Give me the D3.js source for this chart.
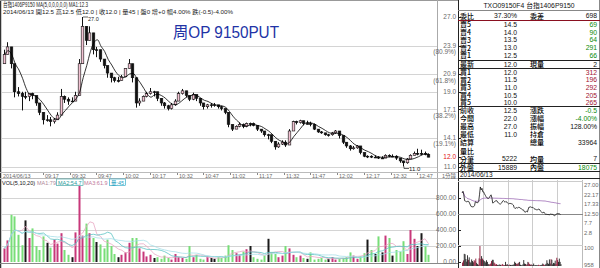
<!DOCTYPE html>
<html>
<head>
<meta charset="utf-8">
<script src="https://cdn.jsdelivr.net/npm/d3@7"></script>
<style>
html, body { margin: 0; padding: 0; background: #fff; }
svg { display: block; font-family: "Liberation Sans", "Noto Sans CJK TC", sans-serif; }
</style>
</head>
<body>
<svg id="chart" width="600" height="268"></svg>
<script>
// ---- data (2-minute bars) ----
const barTimes = [
  '08:55','08:57','08:59','09:01','09:03','09:05','09:07','09:09','09:11','09:13',
  '09:15','09:17','09:19','09:21','09:23','09:25','09:27','09:29','09:31','09:33',
  '09:35','09:37','09:39','09:41','09:43','09:45','09:47','09:49','09:51','09:53',
  '09:55','09:57','09:59','10:01','10:03','10:05','10:07','10:09','10:11','10:13',
  '10:15','10:17','10:19','10:21','10:23','10:25','10:27','10:29','10:31','10:33',
  '10:35','10:37','10:39','10:41','10:43','10:45','10:47','10:49','10:51','10:53',
  '10:55','10:57','10:59','11:01','11:03','11:05','11:07','11:09','11:11','11:13',
  '11:15','11:17','11:19','11:21','11:23','11:25','11:27','11:29','11:31','11:33',
  '11:35','11:37','11:39','11:41','11:43','11:45','11:47','11:49','11:51','11:53',
  '11:55','11:57','11:59','12:01','12:03','12:05','12:07','12:09','12:11','12:13',
  '12:15','12:17','12:19','12:21','12:23','12:25','12:27','12:29','12:31','12:33',
  '12:35','12:37','12:39','12:41','12:43','12:45','12:47','12:49','12:51','12:53'
];
const opens = [
  22.0,23.0,23.8,22.0,19.0,18.8,18.5,18.5,18.8,18.6,
  17.8,16.8,16.0,16.0,15.8,16.0,16.5,18.5,18.2,18.0,
  18.0,18.6,22.0,26.0,24.5,25.3,23.5,23.5,22.5,21.8,
  21.0,20.5,20.2,20.2,20.6,21.5,22.0,20.5,17.8,18.0,
  18.5,18.8,19.0,19.0,18.3,17.8,17.5,17.2,17.6,18.0,
  18.8,19.1,18.6,18.2,18.7,18.3,17.8,17.4,17.6,17.6,
  17.6,17.4,17.2,16.8,15.5,15.0,15.3,15.5,15.3,15.6,
  15.6,15.4,15.0,14.8,14.4,14.4,13.7,13.1,13.4,13.6,
  13.3,14.8,15.8,15.7,15.9,15.6,15.6,15.5,15.0,14.7,
  14.6,14.4,14.4,14.6,14.8,14.3,13.6,13.2,12.9,13.0,
  13.2,12.5,12.1,12.1,12.0,12.0,11.9,11.9,12.2,12.1,
  12.1,11.9,11.6,11.4,11.8,12.2,12.4,12.4,12.4,12.3
];
const highs = [
  23.5,24.3,23.8,22.0,19.5,19.0,19.0,18.8,18.9,18.6,
  17.8,16.8,16.5,16.3,16.2,16.8,19.3,18.6,18.4,18.4,
  19.0,22.5,27.0,26.0,26.0,25.3,23.8,23.5,22.5,21.8,
  21.0,20.6,20.6,20.8,21.5,22.5,22.0,20.5,18.3,18.6,
  19.0,19.4,19.1,19.0,18.3,17.9,17.6,17.8,18.2,19.0,
  19.3,19.1,18.6,18.9,18.7,18.3,17.8,17.7,17.8,17.8,
  17.6,17.5,17.2,16.8,15.5,15.4,15.7,15.6,15.7,15.7,
  15.7,15.4,15.0,14.8,14.5,14.4,13.7,13.6,13.8,13.8,
  15.0,15.9,15.9,16.0,15.9,15.9,15.8,15.6,15.0,14.8,
  14.6,14.5,14.7,14.9,14.8,14.3,13.6,13.3,13.2,13.3,
  13.2,12.5,12.2,12.2,12.2,12.1,12.1,12.3,12.3,12.3,
  12.2,11.9,11.6,11.9,12.3,12.6,12.9,12.8,12.6,12.4
];
const lows = [
  22.0,23.0,21.5,18.4,18.5,17.0,18.2,18.0,18.2,17.5,
  16.5,15.5,15.8,15.3,15.6,16.0,16.5,17.8,17.6,17.9,
  18.0,18.6,22.0,24.0,24.5,23.0,22.7,22.2,21.5,20.5,
  20.0,20.0,20.0,20.2,20.6,21.5,20.0,17.3,17.5,18.0,
  18.4,18.7,18.5,18.0,17.5,17.2,17.0,17.1,17.5,18.0,
  18.7,18.4,18.0,18.1,18.0,17.5,17.1,17.2,17.3,17.4,
  17.2,17.0,16.6,15.2,14.8,15.0,15.2,15.1,15.2,15.3,
  15.3,14.8,14.6,14.2,13.9,13.5,12.8,13.0,13.3,13.1,
  13.3,14.8,15.5,15.6,15.4,15.5,15.3,14.9,14.6,14.5,
  14.3,14.2,14.3,14.5,14.0,13.4,13.0,12.7,12.8,12.9,
  12.3,12.0,11.9,11.9,11.9,11.8,11.8,11.9,12.0,12.0,
  11.7,11.4,11.0,11.3,11.8,12.2,12.2,12.2,12.2,12.0
];
const closes = [
  23.0,23.8,22.0,19.0,18.8,18.5,18.5,18.8,18.6,17.8,
  16.8,16.0,16.0,15.8,16.0,16.5,18.5,18.2,18.0,18.0,
  18.6,22.0,26.0,24.5,25.3,23.5,23.5,22.5,21.8,21.0,
  20.5,20.2,20.2,20.6,21.5,22.0,20.5,17.8,18.0,18.5,
  18.8,19.0,19.0,18.3,17.8,17.5,17.2,17.6,18.0,18.8,
  19.1,18.6,18.2,18.7,18.3,17.8,17.4,17.6,17.6,17.6,
  17.4,17.2,16.8,15.5,15.0,15.3,15.5,15.3,15.6,15.6,
  15.4,15.0,14.8,14.4,14.4,13.7,13.1,13.4,13.6,13.3,
  14.8,15.8,15.7,15.9,15.6,15.6,15.5,15.0,14.7,14.6,
  14.4,14.4,14.6,14.8,14.3,13.6,13.2,12.9,13.0,13.2,
  12.5,12.1,12.1,12.0,12.0,11.9,11.9,12.2,12.1,12.1,
  11.9,11.6,11.4,11.8,12.2,12.4,12.4,12.4,12.3,12.0
];
const volumes = [
  170,270,590,570,340,210,520,300,420,200,
  150,320,240,180,280,230,360,150,90,60,
  370,970,330,480,360,300,250,220,170,280,
  200,100,60,90,120,240,300,300,170,130,
  70,90,50,60,40,80,50,30,100,60,
  50,40,200,60,90,40,30,70,50,40,
  60,50,80,210,150,110,90,130,160,200,
  60,40,30,80,290,120,100,60,80,200,
  170,90,60,80,50,40,120,30,40,50,
  30,40,60,30,40,50,60,120,80,40,
  70,110,280,150,100,320,120,330,300,80,
  150,130,260,100,400,290,200,360,200,90
];

const timeTicks = ['09:17','09:32','09:47','10:02','10:17','10:32','10:47','11:02','11:17','11:32','11:47','12:02','12:17','12:32','12:47'];
const priceLevels = [27.0, 23.94, 20.89, 19.0, 17.11, 14.06, 11.0];
const priceLabels = ['27.0', '23.9', '20.9', '19.0', '17.1', '14.1', '11.0'];
const pctLabels = ['', '(80.9%)', '(61.8%)', '', '(38.2%)', '(19.1%)', ''];
const lastPrice = 12.0;
const volTicks = [800, 600, 400, 200, 0];

const askLabels = ['賣5', '賣4', '賣3', '賣2', '賣1'];
const askPrices = ['14.5', '14.0', '13.5', '13.0', '12.5'];
const askSizes = ['69', '90', '64', '291', '66'];
const bidLabels = ['買1', '買2', '買3', '買4', '買5'];
const bidPrices = ['12.0', '11.5', '11.0', '10.5', '10.0'];
const bidSizes = ['312', '196', '292', '205', '265'];
const statLabels = ['前收', '今開', '最高', '最低', '結算', '量比', '分筆'];
const statValues = ['12.5', '22.0', '27.0', '11.0', '', '', '5222'];
const statLabels2 = ['漲跌', '漲幅', '振幅', '持倉', '總量', '', '均量'];
const statValues2 = ['-0.5', '-4.00%', '128.00%', '', '33964', '', '7'];

const miniTicks = [27, 22.17, 17.33, 12.5, 7.67, 2.83];
const miniTickLabels = ['27.00', '22.17', '17.33', '12.50', '7.7', '2.8'];
const miniGridTimes = ['09:45', '10:45', '11:45', '12:45'];

// ---- helpers ----
const toMin = t => { const p = t.split(':').map(Number); return p[0] * 60 + p[1]; };
const bars = barTimes.map((t, i) => ({
  t: toMin(t), o: opens[i], h: highs[i], l: lows[i], c: closes[i], v: volumes[i]
}));
const movingAvg = (arr, n) => arr.map((d, i) => d3.mean(arr.slice(Math.max(0, i - n + 1), i + 1)));
const ma5 = movingAvg(closes, 5);
const vma5 = movingAvg(volumes, 5), vma10 = movingAvg(volumes, 10), vma20 = movingAvg(volumes, 20);

const svg = d3.select('#chart');
const gray = '#6a6a6a';
const cjk = '"Noto Sans CJK TC", sans-serif';

// ---- scales ----
const x = d3.scaleLinear().domain([toMin('08:54'), toMin('12:58')]).range([2, 437]);
const y = d3.scaleLinear().domain([11, 27]).range([166.5, 17]);
const yVol = d3.scaleLinear().domain([0, 800]).range([262, 198]);

// ---- frame ----
svg.append('rect').attr('width', 600).attr('height', 268).attr('fill', '#fff');
svg.append('line').attr('x1', 0.5).attr('x2', 0.5).attr('y1', 0).attr('y2', 268).attr('stroke', '#333').attr('stroke-width', 1.5);
svg.append('line').attr('x1', 0).attr('x2', 458).attr('y1', 0.5).attr('y2', 0.5).attr('stroke', '#999');
svg.append('line').attr('x1', 437.5).attr('x2', 437.5).attr('y1', 0).attr('y2', 263).attr('stroke', '#aaa');
[172.5, 178.5].forEach(v => svg.append('line').attr('x1', 0).attr('x2', 458).attr('y1', v).attr('y2', v).attr('stroke', '#bbb'));
svg.append('line').attr('x1', 0).attr('x2', 458).attr('y1', 263.5).attr('y2', 263.5).attr('stroke', '#888');

// ---- header text ----
svg.append('text').attr('x', 3).attr('y', 7).attr('font-size', 6.5).attr('fill', '#222')
  .attr('textLength', 85).attr('lengthAdjust', 'spacingAndGlyphs')
  .text('台指1406P9150 MA(5,0,0,0,0,0) MA1:12.3');
svg.append('text').attr('x', 3).attr('y', 13.5).attr('font-size', 6).attr('fill', '#222')
  .attr('textLength', 230).attr('lengthAdjust', 'spacingAndGlyphs')
  .text('2014/06/13 開12.5 高12.5 低12.0 | 收12.0 | 量45 | 盤0 增+0 幅4.00% 跌(-0.5)-4.00%');
svg.append('text').attr('x', 173).attr('y', 38).attr('font-size', 16).attr('fill', '#2233a6')
  .attr('textLength', 106).attr('lengthAdjust', 'spacingAndGlyphs')
  .text('周OP 9150PUT');

// ---- price grid + right axis ----
svg.append('g').selectAll('line').data(priceLevels.slice(1)).enter().append('line')
  .attr('x1', 2).attr('x2', 437)
  .attr('y1', d => Math.round(y(d)) + 0.5).attr('y2', d => Math.round(y(d)) + 0.5)
  .attr('stroke', '#d4d4d4');

const gAxis = svg.append('g').attr('font-size', 6.5).attr('text-anchor', 'end');
priceLevels.forEach((p, i) => {
  gAxis.append('text').attr('x', 456).attr('y', y(p) + 2.2).attr('fill', gray).text(priceLabels[i]);
  if (pctLabels[i]) gAxis.append('text').attr('x', 456).attr('y', y(p) + 8.5).attr('fill', gray).text(pctLabels[i]);
});
gAxis.append('text').attr('x', 456).attr('y', y(lastPrice) + 2.2).attr('fill', '#e01010').text(lastPrice.toFixed(1));
gAxis.append('text').attr('x', 456).attr('y', 177.5).attr('fill', gray).attr('font-size', 5.5).text('1分鐘');

// ---- candles ----
const cx = d => Math.round(x(d.t));
const gCandle = svg.append('g');
gCandle.selectAll('line').data(bars).enter().append('line')
  .attr('x1', d => cx(d) + 0.5).attr('x2', d => cx(d) + 0.5)
  .attr('y1', d => y(d.h)).attr('y2', d => y(d.l))
  .attr('stroke', '#111');
gCandle.selectAll('rect').data(bars).enter().append('rect')
  .attr('x', d => cx(d) - 0.8).attr('width', 2.6)
  .attr('y', d => y(Math.max(d.o, d.c)))
  .attr('height', d => Math.max(0.8, Math.abs(y(d.o) - y(d.c))))
  .attr('fill', d => d.c > d.o ? '#f2c2d2' : '#111')
  .attr('stroke', '#111').attr('stroke-width', 0.6);

svg.append('path').datum(bars.map((d, i) => ({t: d.t, v: ma5[i]})))
  .attr('fill', 'none').attr('stroke', '#000').attr('stroke-width', 0.8)
  .attr('d', d3.line().x(d => x(d.t) + 1).y(d => y(d.v)).curve(d3.curveMonotoneX));

// high / low markers
const hiBar = bars[d3.maxIndex(bars, d => d.h)], loBar = bars[d3.minIndex(bars, d => d.l)];
svg.append('path').attr('fill', 'none').attr('stroke', '#222').attr('stroke-width', 0.7)
  .attr('d', `M${cx(hiBar) + 1},${y(hiBar.h)}H${cx(hiBar) + 6}`);
svg.append('text').attr('x', cx(hiBar) + 6).attr('y', y(hiBar.h) + 3.5).attr('font-size', 5.5).attr('fill', '#222').text(hiBar.h.toFixed(1));
svg.append('path').attr('fill', 'none').attr('stroke', '#222').attr('stroke-width', 0.7)
  .attr('d', `M${cx(loBar) + 1},${y(loBar.l)}V${y(loBar.l) + 2}H${cx(loBar) + 6}`);
svg.append('text').attr('x', cx(loBar) + 6).attr('y', y(loBar.l) + 4.5).attr('font-size', 6).attr('fill', '#222').text(loBar.l.toFixed(1));

// ---- time axis ----
const gTime = svg.append('g').attr('font-size', 5.5).attr('fill', gray);
gTime.append('text').attr('x', 3).attr('y', 177.5).text('2014/06/13');
timeTicks.forEach(t => {
  const tx = Math.round(x(toMin(t))) + 0.5;
  gTime.append('line').attr('x1', tx).attr('x2', tx).attr('y1', 173).attr('y2', 175).attr('stroke', '#888');
  gTime.append('text').attr('x', tx + 1.5).attr('y', 177.5).text(t);
});

// ---- volume panel ----
const legend = [
  {t: 'VOL(5,10,20)', c: '#111', x: 2},
  {t: 'MA1:79', c: '#b08898', x: 37},
  {t: 'MA2:54.7', c: '#2a9a9a', x: 58, box: true},
  {t: 'MA3:61.9', c: '#c07898', x: 84},
  {t: '量:45', c: '#1aa0c0', x: 111, box: true}
];
legend.forEach(d => {
  const tx = svg.append('text').attr('x', d.x).attr('y', 184.5).attr('font-size', 5.5).attr('fill', d.c).text(d.t);
  if (d.box) {
    const w = tx.node().getComputedTextLength();
    svg.append('rect').attr('x', d.x - 1.5).attr('y', 179).attr('width', w + 3).attr('height', 6.5)
      .attr('fill', 'none').attr('stroke', d.c).attr('stroke-width', 0.6);
  }
});

svg.append('g').selectAll('line').data(volTicks.slice(0, 4)).enter().append('line')
  .attr('x1', 2).attr('x2', 437)
  .attr('y1', d => Math.round(yVol(d)) + 0.5).attr('y2', d => Math.round(yVol(d)) + 0.5)
  .attr('stroke', '#d4d4d4');
svg.append('g').attr('font-size', 6.5).attr('text-anchor', 'end').attr('fill', gray)
  .selectAll('text').data(volTicks).enter().append('text')
  .attr('x', 456).attr('y', d => yVol(d) + 2.2).text(d => d.toFixed(2));

const volColor = d => d.c > d.o ? '#c8387a' : d.c < d.o ? '#78de78' : '#1a1a1a';
svg.append('g').selectAll('rect').data(bars).enter().append('rect')
  .attr('x', d => cx(d) - 0.5).attr('width', 2)
  .attr('y', d => Math.max(186, yVol(d.v)))
  .attr('height', d => 262 - Math.max(186, yVol(d.v)))
  .attr('fill', volColor);

[[vma5, '#e8a8c4'], [vma10, '#5cc4c4'], [vma20, '#a8e0e8']].forEach(([arr, col]) => {
  svg.append('path').datum(bars.map((d, i) => ({t: d.t, v: arr[i]})))
    .attr('fill', 'none').attr('stroke', col).attr('stroke-width', 0.8)
    .attr('d', d3.line().x(d => x(d.t) + 0.5).y(d => yVol(d.v)));
});

// ---- right quote panel ----
const panel = svg.append('g');
panel.append('line').attr('x1', 458.5).attr('x2', 458.5).attr('y1', 0).attr('y2', 268).attr('stroke', '#222');
panel.append('line').attr('x1', 599.5).attr('x2', 599.5).attr('y1', 0).attr('y2', 268).attr('stroke', '#888');
priceLevels.concat([lastPrice]).forEach(p => panel.append('line').attr('x1', 458).attr('x2', 461)
  .attr('y1', Math.round(y(p)) + 0.5).attr('y2', Math.round(y(p)) + 0.5).attr('stroke', '#222'));
volTicks.forEach(v => panel.append('line').attr('x1', 458).attr('x2', 461)
  .attr('y1', Math.round(yVol(v)) + 0.5).attr('y2', Math.round(yVol(v)) + 0.5).attr('stroke', '#222'));

panel.append('text').attr('x', 529).attr('y', 8).attr('font-size', 6.8).attr('text-anchor', 'middle').attr('fill', '#111')
  .text('TXO09150F4 台指1406P9150');
panel.append('line').attr('x1', 458).attr('x2', 600).attr('y1', 10.5).attr('y2', 10.5).attr('stroke', '#888');

const rows = [];
rows.push({l: '委比', v: '37.30%', l2: '委差', v2: '698', y: 16});
askLabels.forEach((l, i) => rows.push({l, v: askPrices[i], l2: '', v2: askSizes[i], c2: '#0a8a0a', y: 24.2 + i * 7.9}));
rows.push({l: '最新', v: '12.0', l2: '現量', v2: '2', y: 64.4});
bidLabels.forEach((l, i) => rows.push({l, v: bidPrices[i], l2: '', v2: bidSizes[i], c2: '#a01030', y: 72.4 + i * 7.6}));
statLabels.forEach((l, i) => rows.push({
  l, v: statValues[i], l2: statLabels2[i], v2: statValues2[i],
  c2: statValues2[i].startsWith('-') ? '#0a8a0a' : '#111', y: 110.4 + i * 8.1
}));
rows.push({l: '外盤', v: '15889', l2: '內盤', v2: '18075', c2: '#0a8a0a', y: 167.4});

rows.forEach(r => {
  panel.append('text').attr('x', 460).attr('y', r.y + 2.6).attr('font-size', 7).attr('font-weight', 500)
    .attr('font-family', cjk).attr('fill', '#000').text(r.l);
  panel.append('text').attr('x', 517).attr('y', r.y + 2.4).attr('font-size', 6.8).attr('text-anchor', 'end').attr('fill', '#111').text(r.v);
  if (r.l2) panel.append('text').attr('x', 530).attr('y', r.y + 2.6).attr('font-size', 7).attr('font-weight', 500)
    .attr('font-family', cjk).attr('fill', '#000').text(r.l2);
  panel.append('text').attr('x', 597).attr('y', r.y + 2.4).attr('font-size', 6.8).attr('text-anchor', 'end')
    .attr('fill', r.c2 || '#111').text(r.v2);
});
panel.append('line').attr('x1', 458).attr('x2', 600).attr('y1', 20.5).attr('y2', 20.5).attr('stroke', '#8a1020');
[60.5, 68.5, 106.5, 163.5, 171.5, 178.5].forEach(v => panel.append('line')
  .attr('x1', 458).attr('x2', 600).attr('y1', v).attr('y2', v).attr('stroke', '#222'));

// ---- mini intraday chart ----
const xMini = d3.scaleLinear().domain([toMin('08:45'), toMin('13:45')]).range([458, 582]);
const yMini = d3.scaleLinear().domain([12.5, 27]).range([213.5, 185]);
const yMiniVol = d3.scaleLinear().domain([0, d3.max(volumes)]).range([266, 246]);

panel.append('text').attr('x', 460).attr('y', 177).attr('font-size', 6.5).attr('fill', '#111').text('2014/06/13');
miniGridTimes.forEach(t => {
  const gx = Math.round(xMini(toMin(t))) + 0.5;
  panel.append('line').attr('x1', gx).attr('x2', gx).attr('y1', 180).attr('y2', 268).attr('stroke', '#ccc');
});
panel.append('line').attr('x1', 582.5).attr('x2', 582.5).attr('y1', 180).attr('y2', 268).attr('stroke', '#bbb');
panel.append('line').attr('x1', 458).attr('x2', 583).attr('y1', 181.5).attr('y2', 181.5).attr('stroke', '#ccc');
panel.append('line').attr('x1', 458).attr('x2', 583).attr('y1', Math.round(yMini(12.5)) + 0.5).attr('y2', Math.round(yMini(12.5)) + 0.5).attr('stroke', '#888');
panel.append('line').attr('x1', 458).attr('x2', 583).attr('y1', 245.5).attr('y2', 245.5).attr('stroke', '#ccc');
miniTicks.forEach((p, i) => panel.append('text').attr('x', 584).attr('y', yMini(p) + 2.2)
  .attr('font-size', 5.8).attr('fill', gray).text(miniTickLabels[i]));
panel.append('text').attr('x', 584).attr('y', 250).attr('font-size', 5.8).attr('fill', gray).text('100');
panel.append('text').attr('x', 584).attr('y', 267).attr('font-size', 5.8).attr('fill', gray).text('958');

panel.append('g').selectAll('rect').data(bars).enter().append('rect')
  .attr('x', d => xMini(d.t)).attr('width', 0.9)
  .attr('y', d => yMiniVol(d.v)).attr('height', d => 266 - yMiniVol(d.v))
  .attr('fill', d => d.c > d.o ? '#8a1030' : '#222');

let pv = 0, vs = 0;
const vwap = bars.map(d => { pv += d.c * d.v; vs += d.v; return {t: d.t, v: pv / vs}; });
panel.append('path').datum(vwap).attr('fill', 'none').attr('stroke', '#a070b8').attr('stroke-width', 0.9)
  .attr('d', d3.line().x(d => xMini(d.t)).y(d => yMini(d.v)));
panel.append('path').datum(bars).attr('fill', 'none').attr('stroke', '#111').attr('stroke-width', 0.8)
  .attr('d', d3.line().x(d => xMini(d.t)).y(d => yMini(d.c)));
</script>
</body>
</html>
